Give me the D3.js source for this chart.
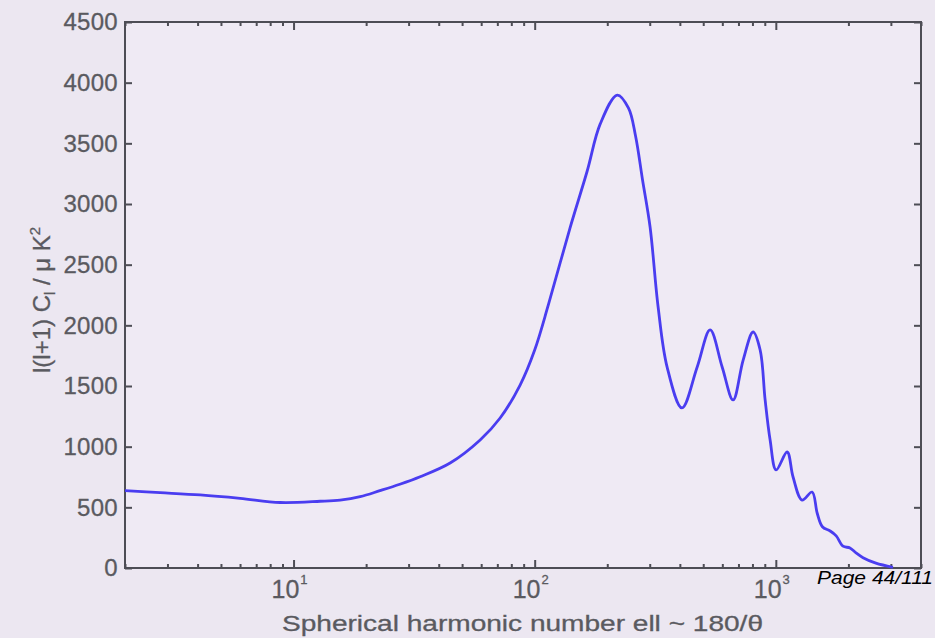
<!DOCTYPE html>
<html><head><meta charset="utf-8">
<script src="https://cdn.jsdelivr.net/npm/d3@7"></script>
<style>
body{margin:0;background:#ece7f1;}
svg{display:block}
text{font-family:"Liberation Sans",Arial,sans-serif;}
</style>
</head><body><svg id="c" width="935" height="638"></svg>
<script>
// ---- data ----
const ell = [2, 2.8, 4.1, 6.0, 8.8, 12.9, 15.6, 18.9, 22.8, 27.6, 33.5, 44.6, 59.4, 71.9, 87, 100, 114, 140, 165, 187, 220, 245, 262, 280, 301, 325, 354, 408, 472, 534, 599, 665, 732, 805, 861, 903, 947, 1003, 1114, 1179, 1285, 1414, 1484, 1560, 1680, 1780, 1900, 2030, 2150, 2300, 2600, 3060];
const power = [637, 621, 602, 574, 540, 550, 560, 588, 637, 690, 752, 865, 1055, 1236, 1508, 1797, 2170, 2800, 3270, 3660, 3898, 3790, 3560, 3200, 2810, 2151, 1657, 1319, 1657, 1962, 1657, 1385, 1714, 1945, 1797, 1385, 1055, 808, 956, 750, 560, 626, 453, 340, 305, 265, 180, 165, 125, 85, 40, 6];
const yTicks = [0, 500, 1000, 1500, 2000, 2500, 3000, 3500, 4000, 4500];
const xMajor = [10, 100, 1000];
const xMajorExp = ["1", "2", "3"];
const xDomain = [2, 4000];
const yDomain = [0, 4500];
const xTitle = "Spherical harmonic number ell ~ 180/\u03B8";
const pageText = "Page 44/111";

// ---- layout ----
const L = 125, R = 921, T = 22, B = 568;
const svg = d3.select("#c");
const x = d3.scaleLog().domain(xDomain).range([L, R]);
const y = d3.scaleLinear().domain(yDomain).range([B, T]);
const textColor = "#5a5a60";

svg.append("rect").attr("x", L).attr("y", T).attr("width", R - L).attr("height", B - T)
  .attr("fill", "#efeaf4");

// minor ticks for log axis
const xMinor = [];
for (let k = 0; k <= 3; k++) for (let m = 2; m <= 9; m++) {
  const v = m * Math.pow(10, k);
  if (v >= xDomain[0] && v <= xDomain[1]) xMinor.push(v);
}

const axisColor = "#4d4d55";
function styleAxis(g) {
  g.select(".domain").remove();
  g.selectAll("line").attr("stroke", axisColor).attr("stroke-width", 2);
}
svg.append("g").attr("transform", `translate(0,${B})`)
  .call(d3.axisBottom(x).tickValues(xMinor).tickSize(-4).tickFormat("")).call(styleAxis);
svg.append("g").attr("transform", `translate(0,${B})`)
  .call(d3.axisBottom(x).tickValues(xMajor).tickSize(-8).tickFormat("")).call(styleAxis);
svg.append("g").attr("transform", `translate(0,${T})`)
  .call(d3.axisTop(x).tickValues(xMinor).tickSize(-4).tickFormat("")).call(styleAxis);
svg.append("g").attr("transform", `translate(0,${T})`)
  .call(d3.axisTop(x).tickValues(xMajor).tickSize(-8).tickFormat("")).call(styleAxis);

// y axis left with labels
const yl = svg.append("g").attr("transform", `translate(${L},0)`)
  .call(d3.axisLeft(y).tickValues(yTicks).tickSize(-7).tickPadding(7).tickFormat(d3.format("d")));
yl.call(styleAxis);
yl.selectAll("text").attr("font-size", 24).attr("fill", textColor)
  .attr("font-family", "'Liberation Sans',Arial,sans-serif").attr("letter-spacing", "0.3")
  .attr("stroke", textColor).attr("stroke-width", 0.3);
svg.append("g").attr("transform", `translate(${R},0)`)
  .call(d3.axisRight(y).tickValues(yTicks).tickSize(-7).tickFormat("")).call(styleAxis);

// frame
svg.append("rect").attr("x", L).attr("y", T).attr("width", R - L).attr("height", B - T)
  .attr("fill", "none").attr("stroke", axisColor).attr("stroke-width", 2);

// x tick labels 10^k
xMajor.forEach((v, i) => {
  const t = svg.append("text").attr("x", x(v) - 4).attr("y", 598)
    .attr("text-anchor", "middle").attr("font-size", 25).attr("fill", textColor)
    .attr("stroke", textColor).attr("stroke-width", 0.3);
  t.append("tspan").text("10");
  t.append("tspan").attr("font-size", 13).attr("dy", -14).attr("dx", 1).text(xMajorExp[i]);
});

// x title
svg.append("text").attr("x", 282).attr("y", 631).attr("font-size", 22).attr("fill", textColor)
  .attr("stroke", textColor).attr("stroke-width", 0.3)
  .attr("textLength", 481).attr("lengthAdjust", "spacingAndGlyphs").text(xTitle);

// y title
const yt = svg.append("text").attr("transform", "translate(50,373) rotate(-90)")
  .attr("font-size", 24).attr("fill", textColor).attr("stroke", textColor).attr("stroke-width", 0.3);
yt.append("tspan").text("l(l+1) C");
yt.append("tspan").attr("font-size", 15).attr("dy", 5).text("l");
yt.append("tspan").attr("dy", -5).text(" / \u03BC K");
yt.append("tspan").attr("font-size", 15).attr("dy", -10).text("2");

// curve
const line = d3.line().x((d, i) => x(ell[i])).y((d, i) => y(power[i])).curve(d3.curveCatmullRom.alpha(0.5));
svg.append("path").datum(power).attr("d", line).attr("fill", "none")
  .attr("stroke", "#4a3df0").attr("stroke-width", 2.8).attr("stroke-linejoin", "round");

// page note
svg.append("text").attr("x", 817).attr("y", 584).attr("font-size", 18).attr("font-style", "italic")
  .attr("fill", "#000").attr("textLength", 116).attr("lengthAdjust", "spacingAndGlyphs").text(pageText);
</script>
</body></html>
